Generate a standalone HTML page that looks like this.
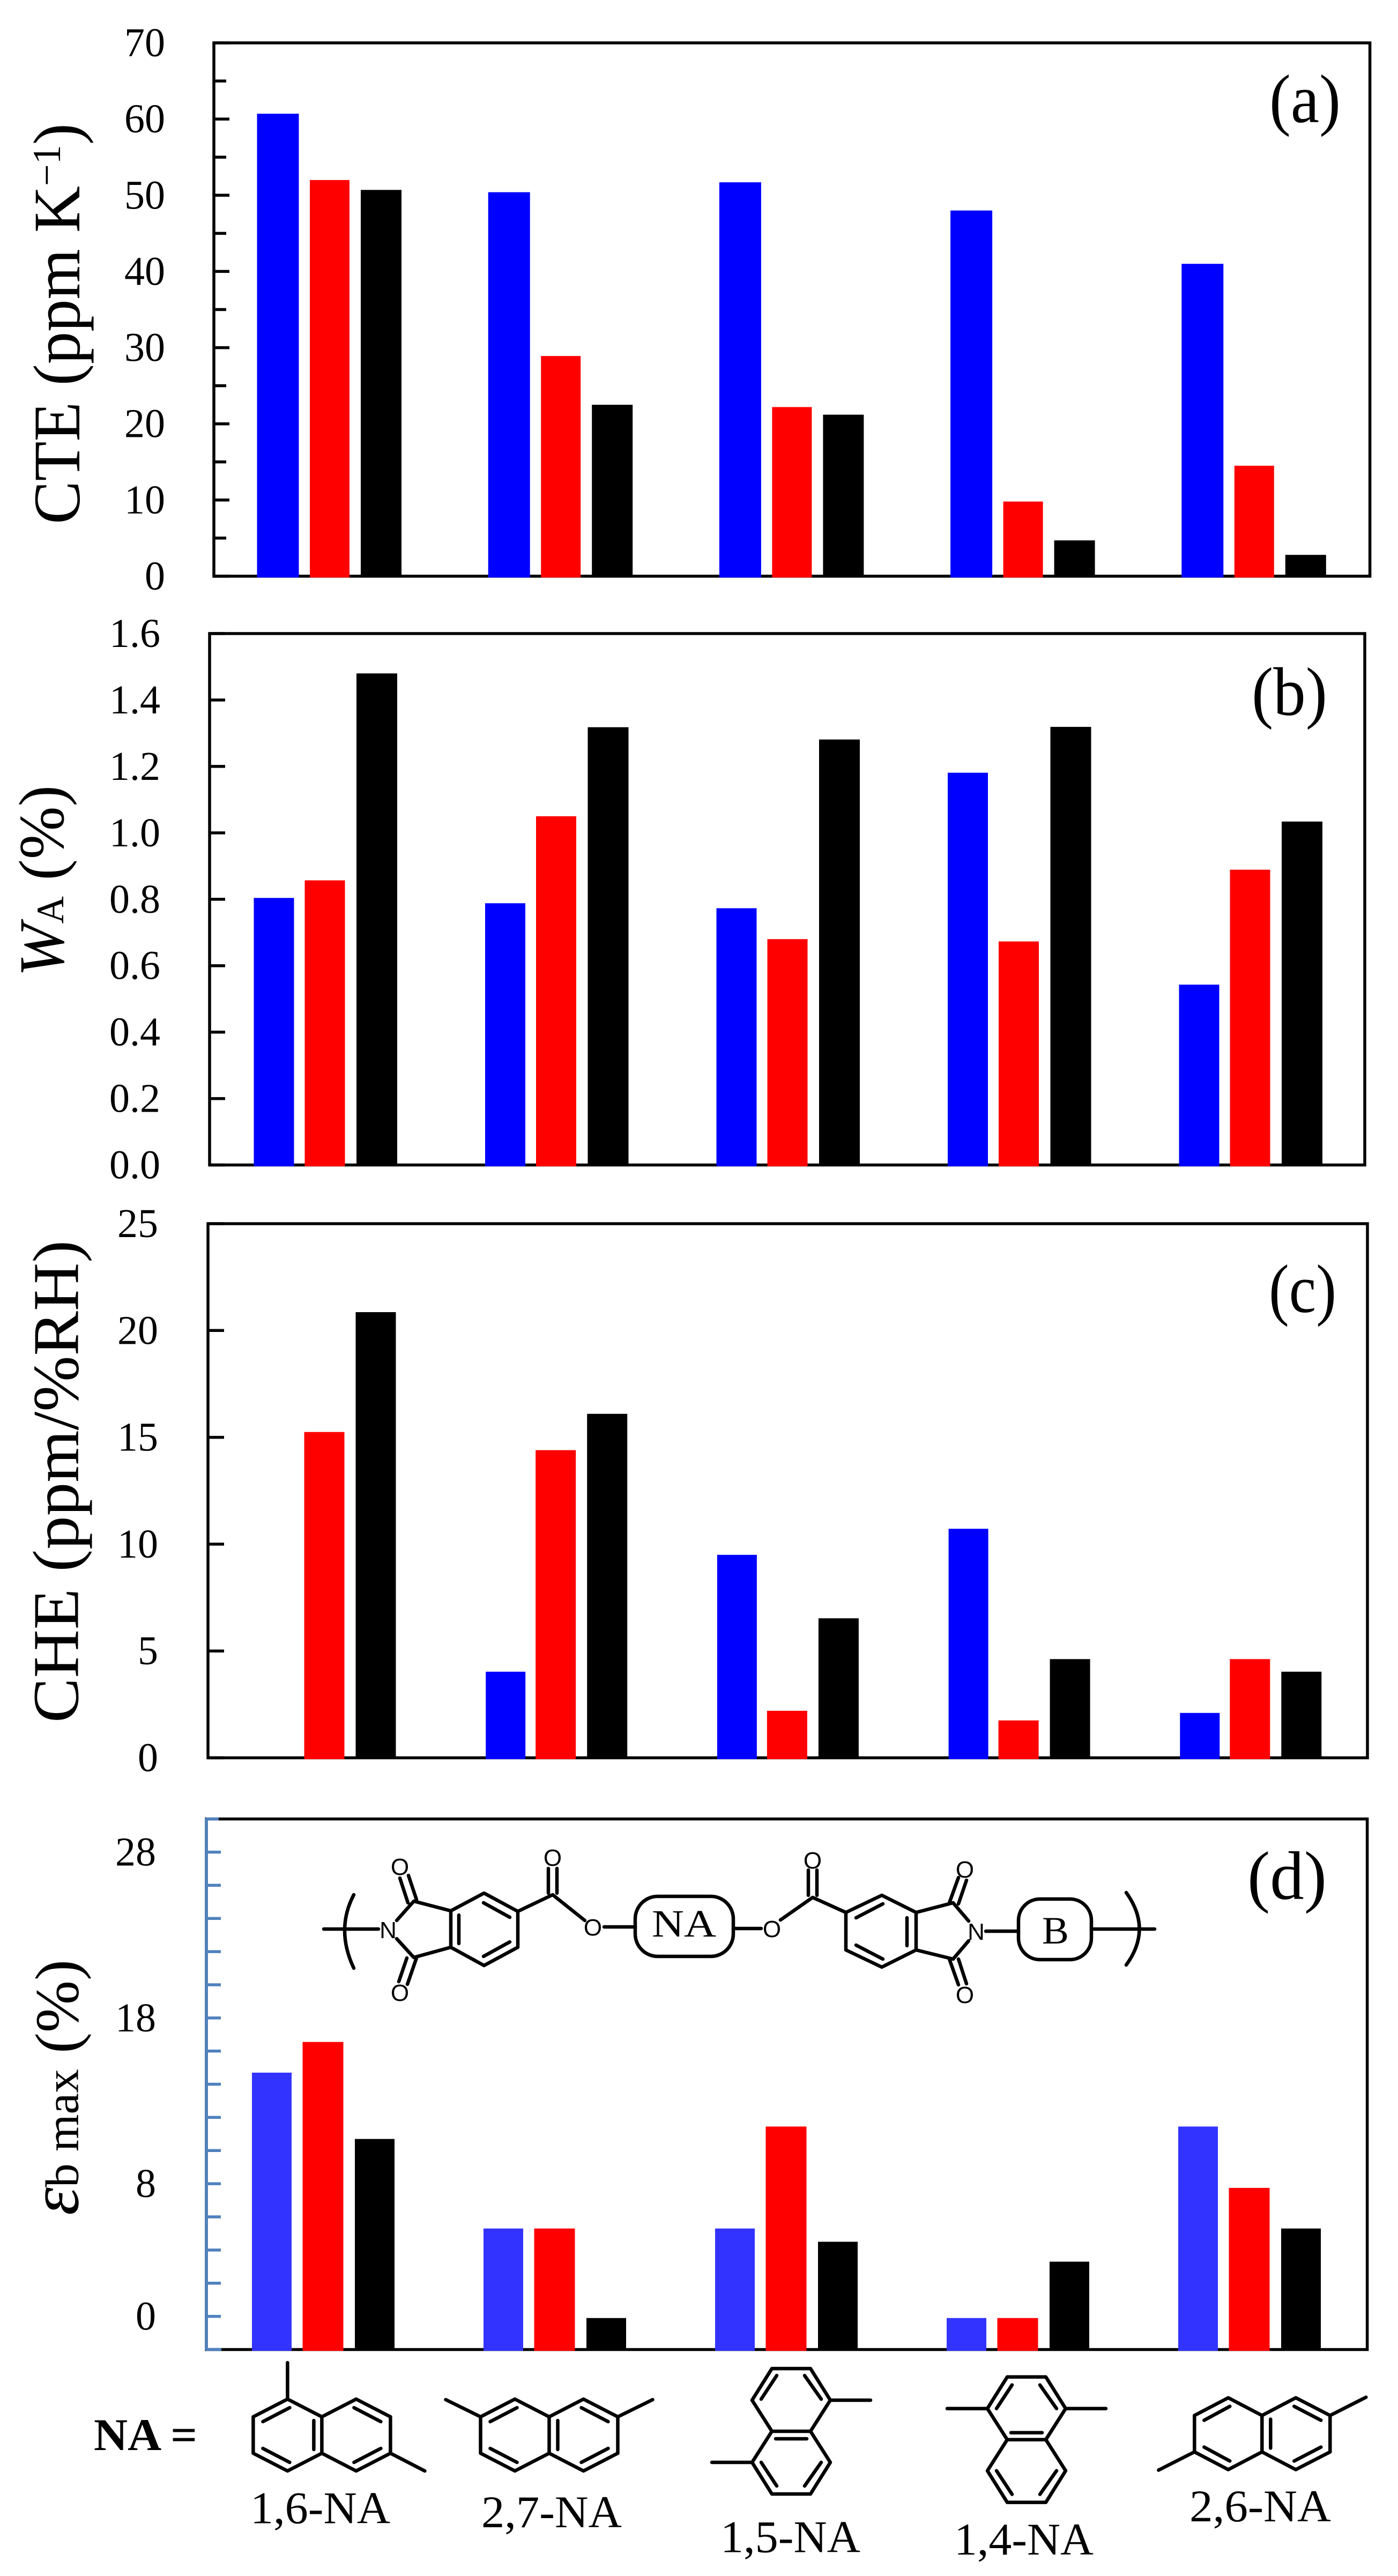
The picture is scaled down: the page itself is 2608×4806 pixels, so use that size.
<!DOCTYPE html>
<html lang="en">
<head>
<meta charset="utf-8">
<title>CTE, water absorption, CHE and elongation for NA polyimides</title>
<style>
html,body{margin:0;padding:0;background:#fff;width:2608px;height:4806px;overflow:hidden}
svg{display:block}
text{font-family:"Liberation Serif","DejaVu Serif",serif;fill:#000}
.bond{fill:none;stroke:#000;stroke-width:6.5;stroke-linecap:round;stroke-linejoin:round}
.atom{font-family:"Liberation Sans",sans-serif;font-size:44px;text-anchor:middle}
</style>
</head>
<body>
<svg id="figure" xmlns="http://www.w3.org/2000/svg" width="2608" height="4806" viewBox="0 0 2608 4806">
  <rect width="2608" height="4806" fill="#fff"/>
  <g id="panels"></g>

  <!-- Axis titles -->
  <text transform="translate(148,978) rotate(-90)" font-size="124" textLength="748" lengthAdjust="spacingAndGlyphs">CTE (ppm K<tspan font-size="74" dy="-36">−1</tspan><tspan dy="36">)</tspan></text>
  <text transform="translate(118,1822) rotate(-90)" font-size="120" textLength="357" lengthAdjust="spacingAndGlyphs"><tspan font-style="italic">W</tspan><tspan font-size="72">A</tspan> (%)</text>
  <text transform="translate(145.5,3214) rotate(-90)" font-size="122" textLength="900" lengthAdjust="spacingAndGlyphs">CHE (ppm/%RH)</text>
  <text transform="translate(145.5,4133) rotate(-90)" font-size="115" textLength="477" lengthAdjust="spacingAndGlyphs"><tspan font-style="italic" font-size="130">ε</tspan><tspan font-size="88">b max</tspan> (%)</text>

  <!-- Panel letters -->
  <text x="2368" y="228" font-size="128" textLength="133" lengthAdjust="spacingAndGlyphs">(a)</text>
  <text x="2335" y="1334" font-size="128" textLength="141" lengthAdjust="spacingAndGlyphs">(b)</text>
  <text x="2367" y="2448" font-size="128" textLength="126" lengthAdjust="spacingAndGlyphs">(c)</text>
  <text x="2327" y="3543" font-size="128" textLength="148" lengthAdjust="spacingAndGlyphs">(d)</text>

  <!-- Repeat-unit structure -->
  <g>
    <path class="bond" d="M660,3535 Q626,3600 660,3672"/>
    <path class="bond" d="M604,3599 H706 M740,3583 L772,3547 L841,3565 M740,3617 L772,3652 L841,3633 M761,3550 L746,3504 M777,3544 L762,3499 M744,3697 L759,3653 M760,3702 L777,3653"/>
    <path class="bond" d="M841,3565 L903,3532 L966,3566 V3633 L903,3667 L841,3633 Z M856,3573 V3626 M902,3550 L951,3577 M951,3623 L902,3650"/>
    <path class="bond" d="M966,3566 L1031,3535 L1091,3583 M1023,3532 V3486 M1039,3532 V3486 M1127,3595 H1185"/>
    <text class="atom" x="724" y="3616">N</text>
    <text class="atom" x="746" y="3498">O</text>
    <text class="atom" x="746" y="3733">O</text>
    <text class="atom" x="1031" y="3481">O</text>
    <text class="atom" x="1106" y="3611">O</text>
    <rect class="bond" x="1185" y="3538" width="183" height="112" rx="42"/>
    <text x="1216" y="3613" font-size="72" textLength="120" lengthAdjust="spacingAndGlyphs">NA</text>
    <path class="bond" d="M1370,3598 H1420 M1456,3582 L1516,3540 L1578,3568 M1508,3536 V3489 M1524,3536 V3489"/>
    <text class="atom" x="1440" y="3614">O</text>
    <text class="atom" x="1516" y="3486">O</text>
    <path class="bond" d="M1578,3568 L1645,3536 L1709,3568 V3638 L1645,3670 L1578,3638 Z M1597,3578 L1647,3552 M1597,3629 L1647,3655 M1692,3578 V3630"/>
    <path class="bond" d="M1709,3568 L1778,3550 L1807,3584 M1709,3638 L1778,3655 L1807,3621 M1771,3550 L1788,3503 M1788,3552 L1803,3508 M1771,3655 L1788,3703 M1788,3655 L1803,3701 M1839,3603 H1900"/>
    <text class="atom" x="1821" y="3619">N</text>
    <text class="atom" x="1800" y="3503">O</text>
    <text class="atom" x="1800" y="3737">O</text>
    <rect class="bond" x="1900" y="3543" width="136" height="113" rx="40"/>
    <text x="1944" y="3626" font-size="72" textLength="50" lengthAdjust="spacingAndGlyphs">B</text>
    <path class="bond" d="M2037,3599 H2154"/>
    <path class="bond" d="M2101,3531 Q2150,3599 2101,3666"/>
  </g>

  <!-- NA isomers -->
  <text x="175" y="4571" font-size="85" font-weight="bold" textLength="193" lengthAdjust="spacingAndGlyphs">NA =</text>

  <g transform="translate(600.4,4543)">
    <path class="bond" d="M-128,-34 L-64,-67 L0,-34 L64,-67 L128,-34 V34 L64,67 L0,34 L-64,67 L-128,34 Z M0,-34 V34 M-110,-25 L-60,-51 M-110,25 L-60,51 M-15,-27 V27 M60,-51 L110,-25 M60,51 L110,25 M-64,-67 V-135 M128,34 L192,67"/>
  </g>
  <g transform="translate(1024.5,4543)">
    <path class="bond" d="M-128,-34 L-64,-67 L0,-34 L64,-67 L128,-34 V34 L64,67 L0,34 L-64,67 L-128,34 Z M0,-34 V34 M-110,-25 L-60,-51 M-110,25 L-60,51 M16,-27 V27 M60,-51 L110,-25 M60,51 L110,25 M-128,-34 L-193,-66 M128,-34 L193,-66"/>
  </g>
  <g transform="translate(1476,4536)">
    <path class="bond" d="M-36,-117 H36 L73,-58 L36,0 L73,58 L36,117 H-36 L-73,58 L-36,0 L-73,-58 Z M-36,0 H36 M-56,-60 L-27,-104 M56,-60 L25,-104 M-29,14 H29 M-56,58 L-27,102 M56,58 L25,102 M73,-58 H148 M-73,58 H-148"/>
  </g>
  <g transform="translate(1915,4551.6)">
    <path class="bond" d="M-36,-117 H36 L73,-58 L36,0 L73,58 L36,117 H-36 L-73,58 L-36,0 L-73,-58 Z M-36,0 H36 M-56,-58 L-27,-102 M56,-58 L25,-102 M-29,-13 H29 M-56,58 L-27,102 M56,58 L25,102 M-73,-58 H-148 M73,-58 H148"/>
  </g>
  <g transform="translate(2354.3,4540.5)">
    <path class="bond" d="M-126,-34 L-63,-67 L0,-34 L63,-67 L127,-34 V34 L63,67 L0,34 L-63,67 L-126,34 Z M0,-34 V34 M-108,-25 L-60,-51 M-108,25 L-60,51 M16,-27 V27 M60,-51 L110,-25 M60,51 L110,25 M127,-34 L194,-68 M-126,34 L-193,68"/>
  </g>

  <text x="467" y="4707.6" font-size="85" textLength="261" lengthAdjust="spacingAndGlyphs">1,6-NA</text>
  <text x="898" y="4715" font-size="85" textLength="262" lengthAdjust="spacingAndGlyphs">2,7-NA</text>
  <text x="1344" y="4761.5" font-size="85" textLength="261" lengthAdjust="spacingAndGlyphs">1,5-NA</text>
  <text x="1780" y="4766" font-size="85" textLength="260" lengthAdjust="spacingAndGlyphs">1,4-NA</text>
  <text x="2219" y="4704" font-size="85" textLength="264" lengthAdjust="spacingAndGlyphs">2,6-NA</text>
</svg>

<script>
// ---- Chart data ----
const categories = ['1,6-NA', '2,7-NA', '1,5-NA', '1,4-NA', '2,6-NA'];
const seriesNames = ['blue', 'red', 'black'];

const cteBlue = [60.7, 50.4, 51.7, 48.0, 41.0];
const cteRed = [52.0, 28.9, 22.2, 9.8, 14.5];
const cteBlack = [50.7, 22.5, 21.2, 4.7, 2.8];
const cteTickLabels = ['0', '10', '20', '30', '40', '50', '60', '70'];
const cteMinorTicks = [5, 15, 25, 35, 45, 55, 65];

const waBlue = [0.804, 0.788, 0.773, 1.181, 0.543];
const waRed = [0.857, 1.05, 0.68, 0.673, 0.889];
const waBlack = [1.48, 1.318, 1.281, 1.319, 1.034];
const waTickLabels = ['0.0', '0.2', '0.4', '0.6', '0.8', '1.0', '1.2', '1.4', '1.6'];
const waMinorTicks = [];

const cheBlue = [0, 4.03, 9.5, 10.72, 2.1];
const cheRed = [15.25, 14.4, 2.2, 1.75, 4.62];
const cheBlack = [20.86, 16.1, 6.53, 4.62, 4.03];
const cheTickLabels = ['0', '5', '10', '15', '20', '25'];
const cheMinorTicks = [];

const elongBlue = [14.7, 5.3, 5.3, -0.1, 11.45];
const elongRed = [16.55, 5.3, 11.45, -0.1, 7.75];
const elongBlack = [10.7, -0.1, 4.5, 3.3, 5.3];
const elongTickLabels = ['0', '8', '18', '28'];
const elongMinorTicks = [2, 4, 6, 10, 12, 14, 16, 20, 22, 24, 26];

// ---- Drawing ----
const NS = 'http://www.w3.org/2000/svg';
const root = document.getElementById('panels');
const AXIS_WIDTH = 5.5;

function make(tag, parent) {
  const el = document.createElementNS(NS, tag);
  parent.appendChild(el);
  return el;
}

function drawLine(parent, x1, y1, x2, y2, color, width) {
  const el = make('line', parent);
  el.setAttribute('x1', x1);
  el.setAttribute('y1', y1);
  el.setAttribute('x2', x2);
  el.setAttribute('y2', y2);
  el.setAttribute('stroke', color);
  el.setAttribute('stroke-width', width);
  return el;
}

function drawPanel(cfg) {
  const g = make('g', root);
  
  

  const yScale = function (v) {
    return cfg.bottom - (v - cfg.min) / (cfg.max - cfg.min) * (cfg.bottom - cfg.top);
  };
  const xCenter = function (groupIndex, seriesIndex) {
    return cfg.centers[seriesIndex] + groupIndex * cfg.step;
  };

  const frame = make('rect', g);
  
  
  frame.setAttribute('x', cfg.left);
  frame.setAttribute('y', cfg.top);
  frame.setAttribute('width', cfg.right - cfg.left);
  frame.setAttribute('height', cfg.bottom - cfg.top);
  frame.setAttribute('fill', 'none');
  frame.setAttribute('stroke', '#000');
  frame.setAttribute('stroke-width', AXIS_WIDTH);

  cfg.tickLabels.forEach(function (label) {
    const v = parseFloat(label);
    const y = yScale(v);
    const tick = drawLine(g, cfg.left, y, cfg.left + cfg.majorLen, y, cfg.axisColor, AXIS_WIDTH);
    
    
    const t = make('text', g);
    
    
    t.setAttribute('x', cfg.labelRight);
    t.setAttribute('y', y + 25);
    t.setAttribute('text-anchor', 'end');
    t.setAttribute('font-size', 76);
    t.textContent = label;
  });

  cfg.minorTicks.forEach(function (v) {
    const y = yScale(v);
    const tick = drawLine(g, cfg.left, y, cfg.left + cfg.minorLen, y, cfg.axisColor, AXIS_WIDTH);
    
    
  });

  if (cfg.axisColor !== '#000') {
    const spine = drawLine(g, cfg.left, cfg.top - 2, cfg.left, cfg.bottom + 2, cfg.axisColor, AXIS_WIDTH);
    
    
    const capTop = drawLine(g, cfg.left, cfg.top, cfg.left + 23, cfg.top, cfg.axisColor, AXIS_WIDTH);
    
    
    const capBottom = drawLine(g, cfg.left, cfg.bottom, cfg.left + 28, cfg.bottom, cfg.axisColor, AXIS_WIDTH);
    
    
  }

  cfg.series.forEach(function (values, s) {
    values.forEach(function (v, i) {
      if (v <= cfg.min) return;
      const topY = yScale(v);
      const bar = make('rect', g);
      
      
      bar.setAttribute('x', xCenter(i, s) - cfg.widths[s] / 2);
      bar.setAttribute('y', topY);
      bar.setAttribute('width', cfg.widths[s]);
      bar.setAttribute('height', Math.max(0, cfg.bottom + 2.5 - topY));
      bar.setAttribute('fill', cfg.colors[s]);
    });
  });
}

drawPanel({
  id: 'cte', left: 399, right: 2555.6, top: 80, bottom: 1075, min: 0, max: 70,
  centers: [518.5, 615, 711], step: 431.2, widths: [78, 74, 76],
  colors: ['#0000ff', '#ff0000', '#000000'], axisColor: '#000',
  majorLen: 29, minorLen: 23, labelRight: 308,
  tickLabels: cteTickLabels, minorTicks: cteMinorTicks,
  series: [cteBlue, cteRed, cteBlack]
});
drawPanel({
  id: 'water-absorption', left: 391, right: 2546, top: 1182, bottom: 2173.5, min: 0, max: 1.6,
  centers: [511, 606, 703], step: 431.5, widths: [75, 75, 76],
  colors: ['#0000ff', '#ff0000', '#000000'], axisColor: '#000',
  majorLen: 29, minorLen: 23, labelRight: 299,
  tickLabels: waTickLabels, minorTicks: waMinorTicks,
  series: [waBlue, waRed, waBlack]
});
drawPanel({
  id: 'che', left: 388, right: 2551, top: 2283, bottom: 3279.5, min: 0, max: 25,
  centers: [511.5, 605, 701], step: 431.7, widths: [74, 75, 75],
  colors: ['#0000ff', '#ff0000', '#000000'], axisColor: '#000',
  majorLen: 30, minorLen: 23, labelRight: 295,
  tickLabels: cheTickLabels, minorTicks: cheMinorTicks,
  series: [cheBlue, cheRed, cheBlack]
});
drawPanel({
  id: 'elongation', left: 385, right: 2550.6, top: 3393.6, bottom: 4383.5, min: -2, max: 30,
  centers: [507, 602.5, 699], step: 432, widths: [74, 76, 74],
  colors: ['#3333ff', '#ff0000', '#000000'], axisColor: '#4f81bd',
  majorLen: 27, minorLen: 27, labelRight: 291,
  tickLabels: elongTickLabels, minorTicks: elongMinorTicks,
  series: [elongBlue, elongRed, elongBlack]
});
</script>
</body>
</html>
